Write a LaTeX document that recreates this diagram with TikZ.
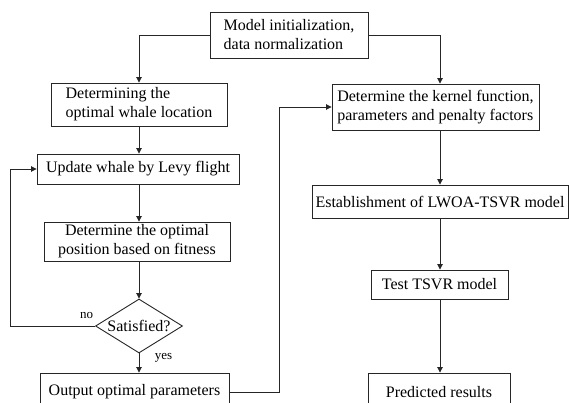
\documentclass[tikz,border=0pt]{standalone}
\usepackage{fontspec}
\setmainfont{Liberation Serif}
\usetikzlibrary{shapes.geometric,arrows.meta}
\tikzset{
  box/.style={draw=black!85, line width=0.9pt, rectangle, inner sep=0pt, align=left,
    font=\fontsize{16}{19}\selectfont},
  conn/.style={draw=black!85, line width=0.9pt, -{Triangle[length=5.5pt,width=5.5pt]}},
  lbl/.style={font=\fontsize{13}{15}\selectfont, inner sep=0pt},
}
\begin{document}
\begin{tikzpicture}[x=1pt,y=-1pt]
\useasboundingbox (0,0) rectangle (569,403);
\clip (0,0) rectangle (569,403);
\coordinate (cx) at (440,0);
\node[box, minimum width=158pt, minimum height=46pt] (init) at (289,35) {Model initialization,\\data normalization};
\node[box, minimum width=176pt, minimum height=43pt] (loc) at (139,104.5) {Determining the\\optimal whale location};
\node[box, minimum width=202pt, minimum height=30pt] (levy) at (138,169) {Update whale by Levy flight};
\node[box, minimum width=186pt, minimum height=39pt, align=center] (fit) at (137,241.5) {Determine the optimal\\position based on fitness};
\node[draw=black!85, line width=0.9pt, diamond, minimum width=87pt, minimum height=54pt, inner sep=0pt] (sat) at (139,326) {};
\node[font=\fontsize{16}{19}\selectfont, inner sep=0pt] (sattext) at (sat.center) {Satisfied?};
\node[box, minimum width=189pt, minimum height=38pt] (out) at (134.5,392) {Output optimal parameters};
\node[box, minimum width=207pt, minimum height=46pt] (kern) at (435.5,107) {Determine the kernel function,\\parameters and penalty factors};
\node[box, minimum width=256pt, minimum height=33pt] (est) at (440,201.5) {Establishment of LWOA-TSVR model};
\node[box, minimum width=137pt, minimum height=29pt] (test) at (439.5,284.5) {Test TSVR model};
\node[box, minimum width=142pt, minimum height=38pt] (pred) at (439,392) {Predicted results};
\node[lbl] (no) at (86.5,315) {no};
\node[lbl] (yes) at (163.5,358) {yes};
% connectors
\draw[conn] (init.west) -| (loc.north);
\draw[conn] (init.east) -| (kern.north -| cx);
\draw[conn] (loc.south) -- (loc.south |- levy.north);
\draw[conn] (levy.south -| loc.south) -- (fit.north -| loc.south);
\draw[conn] (fit.south -| sat.north) -- (sat.north);
\draw[conn] (sat.south) -- (sat.south |- out.north);
\draw[conn] (sat.west) -- ++(-85,0) |- (levy.west);
\draw[conn] (out.east) -- ++(50,0) |- (kern.west);
\draw[conn] (kern.south -| cx) -- (est.north -| cx);
\draw[conn] (est.south -| cx) -- (test.north -| cx);
\draw[conn] (test.south -| cx) -- (pred.north -| cx);
\end{tikzpicture}
\end{document}
